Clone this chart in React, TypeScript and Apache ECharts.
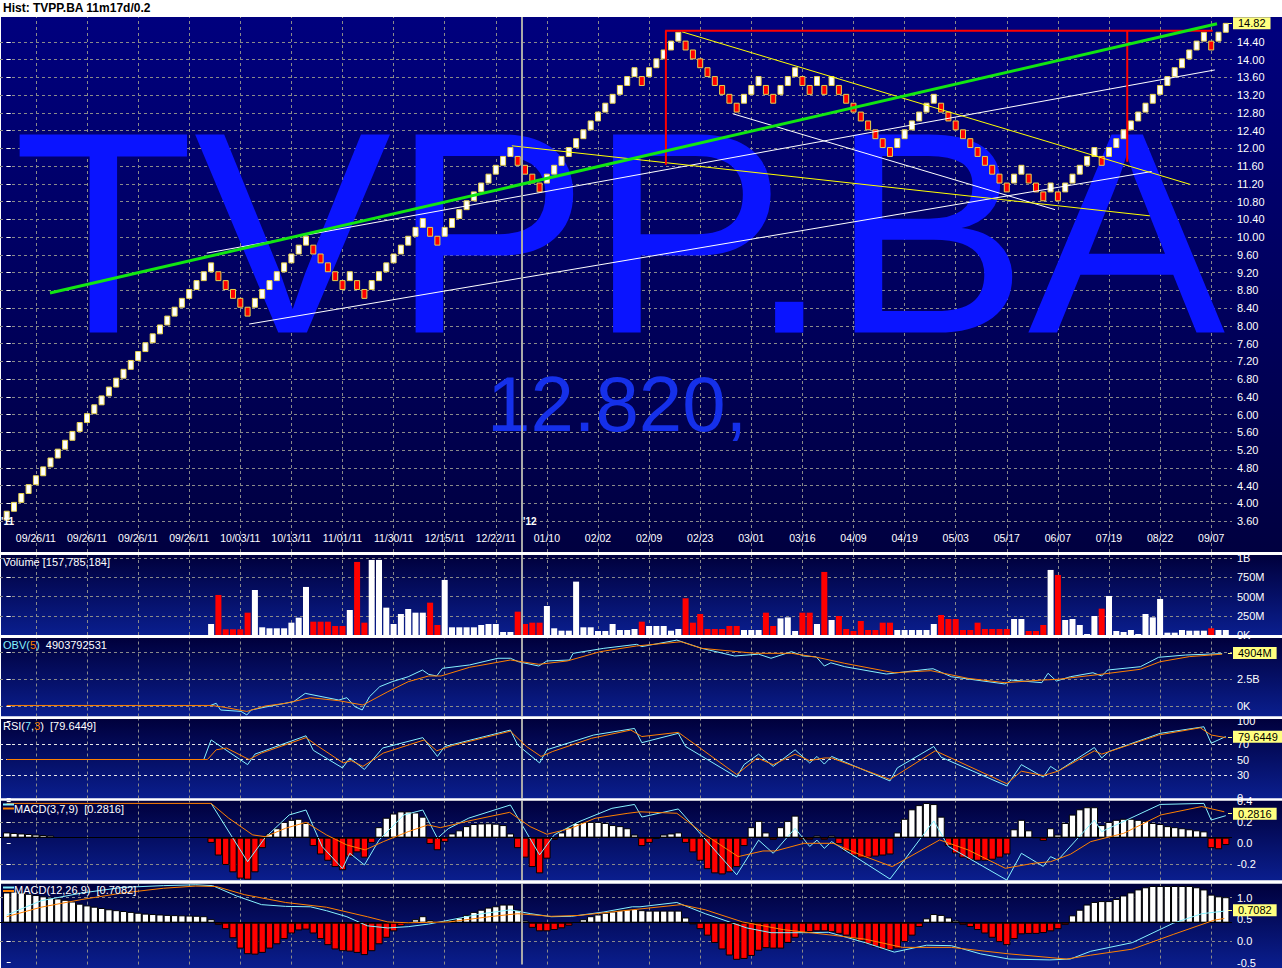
import React, { useEffect, useRef } from "react";
import * as echarts from "echarts";

const FONT = "'Liberation Sans', Arial, Helvetica, sans-serif";

// ---------------- texts ----------------
const TITLE = "Hist: TVPP.BA 11m17d/0.2";
const WATERMARK = "TVPP.BA";
const WATERMARK_PRICE = "12.820,";
const YEAR_MARKS = ["'11", "'12"];

// ---------------- renko bricks (0.2 box) ----------------
const BOX_SIZE = 0.2;
const FIRST_BRICK_LOW = 3.62;
// signed run lengths of consecutive up (+) / down (-) bricks, read left to right
const BRICK_RUNS = [29, -5, 8, -5, 1, -2, 8, -2, 10, -4, 13, -1, 5, -8, 3, -2, 3, -2, 1, -1, 1, -8, 6, -10, 2, -3, 1, -1, 5, -1, 14, -1, 2];
const LAST_PRICE = 14.82;

// ---------------- x axis ----------------
const DATE_COLS = [4, 11, 18, 25, 32, 39, 46, 53, 60, 67, 74, 81, 88, 95, 102, 109, 116, 123, 130, 137, 144, 151, 158, 165];
const DATE_LABELS = ["09/26/11", "09/26/11", "09/26/11", "09/26/11", "10/03/11", "10/13/11", "11/01/11", "11/30/11", "12/15/11", "12/22/11", "01/10", "02/02", "02/09", "02/23", "03/01", "03/16", "04/09", "04/19", "05/03", "05/17", "06/07", "07/19", "08/22", "09/07"];
const YEAR_BREAK = 70.5;
const PRICE_TICKS = [3.6, 4.0, 4.4, 4.8, 5.2, 5.6, 6.0, 6.4, 6.8, 7.2, 7.6, 8.0, 8.4, 8.8, 9.2, 9.6, 10.0, 10.4, 10.8, 11.2, 11.6, 12.0, 12.4, 12.8, 13.2, 13.6, 14.0, 14.4];

// ---------------- drawn trend lines [brick index, price] ----------------
const TREND_GREEN = [[5.93, 8.74], [165.8, 14.81]];
const TREND_RED_TOP = [[90.2, 14.655], [165.2, 14.655]];
const TREND_RED_LEFT = [[90.3, 14.655], [90.3, 11.63]];
const TREND_RED_RIGHT = [[153.5, 14.655], [153.5, 11.7]];
const TREND_YELLOW_A = [[92.5, 14.63], [162.1, 11.19]];
const TREND_YELLOW_B = [[69.2, 12.06], [156.6, 10.48]];
const TREND_WHITE_C = [[33.2, 8.04], [156.85, 11.48]];
const TREND_WHITE_D = [[27.4, 9.64], [165.5, 13.77]];
const TREND_WHITE_E = [[99.5, 12.78], [143.6, 10.62]];

// ---------------- volume (millions), bricks 28..167 ----------------
const VOLUME_TEXT = "Volume [157,785,184]";
const VOL_START = 28;
const VOLUMES = [143, 520, 74, 74, 74, 290, 585, 100, 87, 87, 87, 160, 225, 624, 173, 173, 173, 117, 117, 325, 949, 160, 975, 975, 355, 143, 273, 338, 290, 290, 420, 130, 715, 100, 100, 100, 100, 130, 143, 143, 39, 39, 303, 143, 160, 160, 377, 87, 56, 56, 693, 100, 100, 52, 52, 143, 65, 65, 78, 173,
  117, 117, 117, 56, 78, 477, 160, 273, 78, 78, 78, 117, 117, 65, 65, 65, 290, 117, 216, 229, 52, 290, 290, 143, 819, 195, 247, 78, 52, 182, 65, 65, 160, 160, 65, 65, 65, 65, 65, 143, 260, 208, 208, 65, 65, 160, 78, 78, 78, 78, 208, 208, 52, 52, 130, 845, 780, 195, 208, 130, 13, 247, 342, 507, 52, 39, 65, 13, 273, 229, 468, 30, 30, 65, 56, 56, 56, 87, 65, 65];
const VOL_TICKS = [0, 250, 500, 750, 1000];
const VOL_TICK_LABELS = ["0K", "250M", "500M", "750M", "1B"];

// ---------------- OBV (billions) ----------------
const OBV_VALUE_TEXT = "4903792531";
const OBV_LINE = [[27.9, 0.05], [28.7, 0.25], [29.3, -0.37], [32.1, -0.5], [32.9, -0.83], [33.5, -0.37], [35.4, -0.1], [39.3, 0.4], [40.9, 1.17], [43.2, 0.86], [45.5, 0.55], [46.6, 0.77], [47.7, -0.06], [48.7, -0.37], [49.7, 0.86], [51.1, 1.79], [52.8, 2.25], [55, 2.71], [56.95, 3.33], [57.8, 2.93], [58.9, 2.78], [59.7, 3.49], [63.4, 3.8], [67.3, 4.42], [69, 4.42], [70.1, 4.1], [72.9, 3.7], [74, 4.17], [77.1, 4.26], [77.6, 4.88], [81.8, 5.34], [86.3, 5.71], [87, 5.5], [91.8, 6.1], [95.2, 5.34], [99.7, 4.63], [103, 4.8], [104.7, 4.42], [107.5, 5.03], [109.2, 4.63], [110.9, 4.55], [112, 3.7], [112.9, 4.0], [114.8, 3.64], [120.5, 2.96], [126.1, 3.4], [126.9, 3.45], [129.4, 2.71], [136.75, 2.04], [137.6, 2.4], [141.8, 2.16], [142.65, 3.03], [143.8, 2.31], [145.7, 2.71], [148.8, 3.08], [150, 2.78], [150.8, 3.33], [155.3, 3.64], [157.8, 4.51], [161.5, 4.72], [166.5, 4.85]];
const OBV_SIGNAL = [[0, 0.05], [28, 0.05], [29.3, -0.06], [32.9, -0.5], [35.4, 0], [38.2, 0.25], [41.6, 0.77], [45.5, 0.49], [48.8, 0.09], [52.2, 1.32], [55, 2.25], [57.8, 2.78], [59.5, 2.78], [63.4, 3.58], [69, 4.26], [72.9, 3.86], [76.8, 4.17], [81.3, 5.03], [86.3, 5.56], [92.4, 5.95], [95.2, 5.34], [102.5, 4.88], [107.5, 4.88], [111, 4.51], [114.8, 3.95], [121.6, 3.08], [126.6, 3.27], [131.7, 2.56], [136.75, 2.16], [141.8, 2.4], [144, 2.47], [150.2, 2.96], [155.3, 3.4], [158, 4.1], [162, 4.57], [166.5, 4.8]];
const OBV_TICKS = [0, 2.5, 5];
const OBV_LABEL_TICKS = [0, 2.5];
const OBV_TICK_LABELS = ["0K", "2.5B", "5B"];
const OBV_LAST = 4.904;
const OBV_LAST_TEXT = "4904M";

// ---------------- RSI(7,3) ----------------
const RSI_LINE = [[27, 50], [28, 75.6], [33, 43.3], [34, 57], [41, 81], [42, 62], [46, 39], [47, 52], [49, 37], [51.5, 65], [57, 78.6], [59, 54], [60, 67], [69, 88.5], [70, 69], [73, 45.5], [74, 62.7], [80.4, 82], [86, 90.6], [87, 72], [92, 84.2], [93, 67], [100, 27], [101, 43.3], [103, 57], [105, 41], [108, 62.7], [110, 45.5], [111, 54], [112, 44], [113, 54], [121, 22], [122, 39], [127, 67], [128, 53], [137, 15.4], [139, 43.3], [142, 27], [143, 41], [144, 34.7], [149, 65.7], [150, 52], [151, 60.5], [158, 84.2], [164, 92.8], [165, 71.3], [167, 80]];
const RSI_SIGNAL = [[0, 50], [27.5, 50], [28.7, 62.7], [30.1, 65], [33.2, 50], [34.9, 58.4], [41, 78.6], [42.7, 67], [46.1, 45.5], [47.2, 48.5], [48.8, 41], [51.6, 58.4], [57.2, 75.6], [58.9, 61.4], [61.1, 68.3], [69, 87], [71.2, 67], [73.2, 54], [74.8, 60.5], [80.1, 77.7], [85.5, 88.5], [87, 80], [92, 85.5], [100, 30.4], [102.8, 52], [105, 43.3], [108, 57], [110, 48.5], [112, 52], [113, 52], [121, 24], [127.2, 61.4], [137, 18.4], [139, 34.7], [142, 29], [144, 34.7], [149, 61.4], [150, 57], [157.8, 82], [163.5, 91.5], [165, 82], [167, 78.6]];
const RSI_TICKS = [0, 30, 50, 70, 100];
const RSI_LEVELS = [30, 50, 70];
const RSI_LAST = 79.6449;

// ---------------- MACD(3,7,9) ----------------
const MACD1_LINE = [[28, 0.38], [33, -0.175], [35.4, 0.054], [38.7, 0.27], [41, 0.317], [43.2, -0.03], [46, -0.24], [47, -0.095], [49, -0.206], [51, 0.03], [54.4, 0.27], [57, 0.317], [59, 0.048], [60.5, 0.14], [63.3, 0.24], [69, 0.365], [73, -0.11], [75, 0.08], [78.4, 0.206], [82.9, 0.333], [86, 0.37], [87, 0.25], [92, 0.327], [100, -0.3], [103, 0.03], [105, -0.095], [108, 0.143], [110, -0.03], [111, 0.03], [112, -0.048], [113, 0.016], [121, -0.34], [127, 0.213], [129, -0.03], [137, -0.35], [139, -0.095], [142, -0.22], [143, -0.127], [144, -0.16], [149, 0.222], [150, 0.111], [158, 0.37], [164, 0.38], [165, 0.222], [167, 0.263]];
const MACD1_SIGNAL = [[0, 0.38], [28, 0.38], [30.4, 0.24], [33.7, 0.08], [35.4, 0.063], [38.2, 0.143], [41, 0.2], [43.8, 0.08], [46.6, -0.016], [49.1, -0.063], [51.6, 0.016], [55, 0.111], [57.7, 0.175], [59.4, 0.149], [63.3, 0.213], [68.9, 0.295], [71.7, 0.159], [74, 0.086], [77.3, 0.143], [80.6, 0.238], [85.1, 0.286], [86.75, 0.3], [91.8, 0.286], [95.7, 0.08], [100.2, -0.127], [103.6, -0.073], [105.3, -0.073], [109.2, 0], [113.2, 0], [117, -0.111], [121.3, -0.222], [127.8, 0.032], [131.7, -0.063], [136.8, -0.238], [140.7, -0.19], [143, -0.175], [145.7, -0.105], [148.5, 0.016], [153, 0.095], [158.1, 0.27], [163.7, 0.35], [166.8, 0.3]];
const MACD1_HIST = [0.05, 0.045, 0.04, 0.035, 0.03, 0.025, 0.02,
  null, null, null, null, null, null, null, null, null, null, null, null, null, null, null, null, null, null, null, null, null,
  -0.05, -0.17, -0.26, -0.33, -0.39, -0.4, -0.33, -0.1, 0.04, 0.09, 0.15, 0.17, 0.18, 0.14, -0.08, -0.16, -0.22, -0.28, -0.31, -0.18, -0.14, -0.19, -0.05,
  0.1, 0.19, 0.23, 0.25, 0.25, 0.24, 0.2, -0.06, -0.12, -0.04, 0.04, 0.07, 0.11, 0.13, 0.135, 0.137, 0.133, 0.12, 0.04, -0.1, -0.19, -0.28, -0.34, -0.2, -0.02,
  0.05, 0.1, 0.14, 0.15, 0.15, 0.15, 0.14, 0.12, 0.11, 0.09, 0.03, -0.08, -0.05, -0.01, 0.03, 0.04, 0.05, -0.05, -0.14, -0.22, -0.3, -0.34, -0.35, -0.33, -0.28, -0.08,
  0.1, 0.16, 0.05, -0.02, 0.1, 0.16, 0.21, -0.02, -0.02, 0.02, -0.02, 0.02, -0.06, -0.13, -0.17, -0.19, -0.19, -0.18, -0.17, -0.16,
  0.05, 0.18, 0.27, 0.31, 0.33, 0.32, 0.2, -0.08, -0.15, -0.19, -0.21, -0.22, -0.22, -0.21, -0.19, -0.16, 0.08, 0.17, 0.07, 0.0, -0.03, 0.09, 0.03,
  0.14, 0.22, 0.27, 0.29, 0.29, 0.12, 0.15, 0.17, 0.18, 0.18, 0.17, 0.16, 0.14, 0.13, 0.11, 0.1, 0.09, 0.08, 0.07, 0.06, -0.1, -0.11, -0.07];
const MACD1_TICKS = [-0.2, 0, 0.2, 0.4];
const MACD1_LEVELS = [-0.2, 0.2];
const MACD1_LAST = 0.2816;

// ---------------- MACD(12,26,9) ----------------
const MACD2_LINE = [[0, 0.6], [4.7, 0.93], [10.3, 1.11], [15.9, 1.24], [21.5, 1.28], [25.9, 1.3], [28.2, 1.28], [31.5, 1.04], [34.9, 0.84], [38.2, 0.8], [41.6, 0.79], [43.8, 0.7], [46.6, 0.56], [49.4, 0.35], [52.2, 0.3], [55, 0.33], [57.8, 0.39], [60.6, 0.48], [65.1, 0.63], [69, 0.72], [71.8, 0.63], [74.6, 0.56], [77.4, 0.57], [81.8, 0.67], [85.7, 0.79], [86.75, 0.79], [91.8, 0.89], [95.7, 0.63], [101.4, 0.3], [104.7, 0.19], [109.2, 0.19], [112.6, 0.2], [117.6, -0.04], [121.6, -0.26], [126, -0.1], [129.4, -0.11], [133.4, -0.3], [137.3, -0.42], [142.9, -0.44], [145.7, -0.42], [148.5, -0.24], [154.2, -0.04], [159.8, 0.41], [163.7, 0.63], [166.8, 0.69]];
const MACD2_SIGNAL = [[0, 0.56], [4.7, 0.78], [10.3, 0.96], [15.9, 1.11], [21.5, 1.22], [25.9, 1.27], [28.7, 1.26], [32.6, 1.07], [38.2, 0.89], [43.8, 0.78], [49.4, 0.56], [52.2, 0.44], [55, 0.42], [60.6, 0.44], [66.1, 0.56], [70, 0.63], [74.6, 0.57], [78.4, 0.59], [82.9, 0.67], [86.75, 0.74], [92.4, 0.84], [95.7, 0.72], [100.8, 0.44], [106.4, 0.26], [113.2, 0.13], [117.6, 0.04], [122.7, -0.15], [129.4, -0.15], [137.3, -0.3], [145.2, -0.42], [148.5, -0.33], [154.2, -0.19], [159.8, 0.15], [165.4, 0.48], [166.8, 0.52]];
const MACD2_HIST = [0.7, 0.72, 0.7, 0.67, 0.64, 0.61, 0.58, 0.56, 0.53, 0.49, 0.44, 0.4, 0.37, 0.34, 0.31, 0.29, 0.27, 0.25, 0.23, 0.21, 0.2, 0.19, 0.18, 0.175, 0.17, 0.165, 0.16, 0.15, 0.08,
  -0.05, -0.15, -0.36, -0.6, -0.73, -0.74, -0.7, -0.6, -0.5, -0.38, -0.25, -0.18, -0.16, -0.25, -0.38, -0.52, -0.62, -0.66, -0.67, -0.7, -0.75, -0.66, -0.5, -0.35, -0.2, -0.08, -0.02,
  0.08, 0.15, 0.06, 0.01, 0.01, 0.06, 0.12, 0.18, 0.25, 0.3, 0.35, 0.38, 0.42, 0.42, 0.3, 0.05, -0.12, -0.2, -0.2, -0.17, -0.13, -0.07,
  0.01, 0.08, 0.15, 0.19, 0.23, 0.26, 0.29, 0.31, 0.32, 0.29, 0.28, 0.28, 0.28, 0.28, 0.28, 0.12,
  -0.04, -0.15, -0.3, -0.47, -0.62, -0.76, -0.86, -0.84, -0.77, -0.65, -0.59, -0.6, -0.6, -0.47, -0.35, -0.25, -0.22, -0.2, -0.2, -0.22, -0.26, -0.3, -0.37, -0.43, -0.5, -0.56, -0.62, -0.64, -0.6, -0.45, -0.3, -0.1,
  0.1, 0.2, 0.18, 0.12, 0.05, -0.05, -0.1, -0.17, -0.25, -0.35, -0.45, -0.52, -0.38, -0.27, -0.26, -0.26, -0.24, -0.2, -0.15, -0.05,
  0.17, 0.3, 0.42, 0.48, 0.5, 0.5, 0.55, 0.63, 0.7, 0.77, 0.82, 0.85, 0.85, 0.85, 0.85, 0.85, 0.85, 0.82, 0.77, 0.65, 0.61, 0.59];
const MACD2_TICKS = [-0.5, 0, 0.5, 1.0];
const MACD2_LEVELS = [0, 1.0];
const MACD2_LAST = 0.7082;

// ---------------- layout ----------------
const PLOT_W = 1232;
const X_MIN = -0.918;
const X_MAX = 167.85;
const PANELS = [
  { top: 17, bottom: 552 },
  { top: 555, bottom: 635 },
  { top: 638, bottom: 716.5 },
  { top: 719, bottom: 798.5 },
  { top: 800.5, bottom: 880.5 },
  { top: 883.5, bottom: 968 },
];

function ext(top, bottom, y1, v1, y2, v2) {
  const s = (v2 - v1) / (y2 - y1);
  return { max: v1 + (top - y1) * s, min: v1 + (bottom - y1) * s };
}

const GRID_LINE = { color: "#8a8a8a", type: [3, 3], width: 1 };
const CYAN = "#86f2ff";
const ORANGE = "#ff8000";

function buildOption() {
  const bricks = [];
  let level = -1;
  let idx = 0;
  for (const r of BRICK_RUNS) {
    const d = r > 0 ? 1 : -1;
    for (let n = 0; n < Math.abs(r); n++) {
      level += d;
      bricks.push([idx, FIRST_BRICK_LOW + BOX_SIZE * level, FIRST_BRICK_LOW + BOX_SIZE * (level + 1), d > 0 ? 1 : 0]);
      idx++;
    }
  }

  const P = PANELS;
  const eMain = ext(P[0].top, P[0].bottom, 521, 3.6, 42, 14.4);
  const eVol = ext(P[1].top, P[1].bottom, 635, 0, 558, 1000);
  const eObv = ext(P[2].top, P[2].bottom, 706, 0, 679, 2.5);
  const eRsi = ext(P[3].top, P[3].bottom, 797.75, 0, 721.25, 100);
  const eM1 = ext(P[4].top, P[4].bottom, 843.3, 0, 822.3, 0.2);
  const eH1 = ext(P[4].top, P[4].bottom, 837.67, 0, 816.67, 0.2);
  const eM2 = ext(P[5].top, P[5].bottom, 943.33, 0, 920.83, 0.5);
  const eH2 = ext(P[5].top, P[5].bottom, 924.33, 0, 901.83, 0.5);
  const panelExt = [eMain, eVol, eObv, eRsi, eM1, eM2];
  const panelY = [0, 1, 2, 3, 5, 8];

  const grid = P.map((p) => ({ left: 0, width: PLOT_W, top: p.top, height: p.bottom - p.top, show: false }));

  const xAxis = P.map((p, k) => ({
    type: "value",
    gridIndex: k,
    min: X_MIN,
    max: X_MAX,
    axisLine: { show: false },
    axisTick: { show: false, customValues: DATE_COLS },
    splitLine: { show: false },
    axisLabel:
      k === 0
        ? {
            show: true,
            inside: true,
            margin: 9,
            customValues: DATE_COLS,
            formatter: (v) => DATE_LABELS[DATE_COLS.indexOf(v)] || "",
            color: "#ffffff",
            fontSize: 10.5,
            fontFamily: FONT,
          }
        : { show: false },
  }));

  const labelAxis = (gridIndex, e, ticks, fmt, split, labelTicks = ticks) => ({
    type: "value",
    gridIndex,
    position: "right",
    min: e.min,
    max: e.max,
    axisLine: { show: false },
    axisTick: { show: true, length: 4, lineStyle: { color: "#ffffff" }, customValues: ticks },
    axisLabel: { show: true, customValues: labelTicks, formatter: fmt, color: "#ffffff", fontSize: 11, fontFamily: FONT, margin: 5 },
    splitLine: { show: split, lineStyle: GRID_LINE },
  });
  const lineAxis = (gridIndex, e, values, style) => ({
    type: "value",
    gridIndex,
    position: "left",
    min: e.min,
    max: e.max,
    axisLine: { show: false },
    axisTick: { show: false, customValues: values },
    axisLabel: { show: false },
    splitLine: { show: true, lineStyle: style },
  });
  const hiddenAxis = (gridIndex, e) => ({
    type: "value",
    gridIndex,
    position: "left",
    min: e.min,
    max: e.max,
    axisLine: { show: false },
    axisTick: { show: false },
    axisLabel: { show: false },
    splitLine: { show: false },
  });

  const yAxis = [
    labelAxis(0, eMain, PRICE_TICKS, (v) => v.toFixed(2), true), // 0
    labelAxis(1, eVol, VOL_TICKS, (v) => VOL_TICK_LABELS[VOL_TICKS.indexOf(v)] || "", true), // 1
    labelAxis(2, eObv, OBV_TICKS, (v) => OBV_TICK_LABELS[OBV_TICKS.indexOf(v)] || "", true, OBV_LABEL_TICKS), // 2
    labelAxis(3, eRsi, RSI_TICKS, (v) => String(v), false), // 3
    lineAxis(3, eRsi, RSI_LEVELS, { color: "#e8e8e8", type: [3, 3], width: 1 }), // 4
    labelAxis(4, eM1, MACD1_TICKS, (v) => v.toFixed(1), false), // 5
    lineAxis(4, eM1, MACD1_LEVELS, GRID_LINE), // 6
    hiddenAxis(4, eH1), // 7
    labelAxis(5, eM2, MACD2_TICKS, (v) => v.toFixed(1), false), // 8
    lineAxis(5, eM2, MACD2_LEVELS, GRID_LINE), // 9
    hiddenAxis(5, eH2), // 10
  ];

  const yearLine = { xAxis: YEAR_BREAK, lineStyle: { color: "#a9a9a9", width: 2, type: "solid" }, label: { show: false } };
  const zeroLine = { yAxis: 0, lineStyle: { color: "#000000", width: 1, type: "solid" }, label: { show: false } };
  const valueBox = (v, text) => [
    {
      coord: [X_MAX - 0.55, v],
      lineStyle: { color: "#ffff80", width: 1, type: "solid" },
      label: {
        show: true,
        position: "end",
        distance: 1,
        formatter: text,
        color: "#000000",
        backgroundColor: "#ffff80",
        padding: [1, 5, 0, 5],
        fontSize: 11,
        fontFamily: FONT,
      },
    },
    { coord: [X_MAX, v] },
  ];
  const mark = (data) => ({ silent: true, symbol: ["none", "none"], animation: false, data });

  const line = (data, xi, yi, color, width, z, extra = {}) => ({
    type: "line",
    xAxisIndex: xi,
    yAxisIndex: yi,
    data,
    symbol: "none",
    silent: true,
    lineStyle: { color, width },
    z,
    ...extra,
  });

  const histData = (arr) =>
    arr
      .map((h, i) => (h === null ? null : { value: [i, h], itemStyle: { color: h >= 0 ? "#ffffff" : "#ff0000" } }))
      .filter((d) => d !== null);

  const volData = VOLUMES.map((v, k) => {
    const i = VOL_START + k;
    return { value: [i, v], itemStyle: { color: bricks[i][3] ? "#ffffff" : "#ff0000" } };
  });

  // vertical date grid lines, one carrier series per panel (drawn beneath everything)
  const gridCarriers = P.map((p, k) => ({
    type: "line",
    xAxisIndex: k,
    yAxisIndex: panelY[k],
    data: [[X_MIN, panelExt[k].min]],
    symbol: "none",
    silent: true,
    z: 0,
    lineStyle: { opacity: 0 },
    markLine: {
      z: 0,
      silent: true,
      symbol: ["none", "none"],
      animation: false,
      label: { show: false },
      lineStyle: GRID_LINE,
      data: DATE_COLS.map((c) => ({ xAxis: c })),
    },
  }));

  const series = [
    ...gridCarriers,
    {
      type: "custom",
      xAxisIndex: 0,
      yAxisIndex: 0,
      data: bricks,
      encode: { x: 0, y: [1, 2] },
      clip: false,
      silent: true,
      z: 3,
      renderItem: (params, api) => {
        const i = api.value(0);
        const lo = api.value(1);
        const hi = api.value(2);
        const up = api.value(3);
        const a = api.coord([i, hi]);
        const b = api.coord([i, lo]);
        return {
          type: "rect",
          shape: { x: a[0] - 2.5, y: a[1], width: 5, height: b[1] - a[1] },
          style: { fill: up ? "#ffffff" : "#ff0000", stroke: "#e8d44c", lineWidth: 1 },
        };
      },
    },
    line(TREND_WHITE_C, 0, 0, "#ffffff", 1, 4),
    line(TREND_WHITE_D, 0, 0, "#ffffff", 1, 4),
    line(TREND_WHITE_E, 0, 0, "#ffffff", 1, 4),
    line(TREND_YELLOW_A, 0, 0, "#ffff00", 1, 4),
    line(TREND_YELLOW_B, 0, 0, "#ffff00", 1, 4),
    line(TREND_RED_TOP, 0, 0, "#ff0000", 2, 4),
    line(TREND_RED_LEFT, 0, 0, "#ff0000", 2, 4),
    line(TREND_RED_RIGHT, 0, 0, "#ff0000", 2, 4),
    line(TREND_GREEN, 0, 0, "#12e612", 3, 5, { markLine: mark([yearLine, valueBox(LAST_PRICE, LAST_PRICE.toFixed(2))]) }),
    {
      type: "bar",
      xAxisIndex: 1,
      yAxisIndex: 1,
      data: volData,
      barWidth: 6,
      silent: true,
      z: 2,
      markLine: mark([yearLine]),
    },
    line(OBV_LINE, 2, 2, CYAN, 1, 4, { markLine: mark([yearLine, valueBox(OBV_LAST, OBV_LAST_TEXT)]) }),
    line(OBV_SIGNAL, 2, 2, ORANGE, 1, 5),
    line(RSI_LINE, 3, 3, CYAN, 1, 4, { markLine: mark([yearLine, valueBox(RSI_LAST, RSI_LAST.toFixed(4))]) }),
    line(RSI_SIGNAL, 3, 3, ORANGE, 1, 5),
    {
      type: "bar",
      xAxisIndex: 4,
      yAxisIndex: 7,
      data: histData(MACD1_HIST),
      barWidth: 7.3,
      silent: true,
      z: 2,
      itemStyle: { borderColor: "#000000", borderWidth: 1 },
      markLine: mark([zeroLine, yearLine]),
    },
    line(MACD1_LINE, 4, 5, CYAN, 1, 4, { markLine: mark([valueBox(MACD1_LAST, MACD1_LAST.toFixed(4))]) }),
    line(MACD1_SIGNAL, 4, 5, ORANGE, 1, 5),
    {
      type: "bar",
      xAxisIndex: 5,
      yAxisIndex: 10,
      data: histData(MACD2_HIST),
      barWidth: 7.3,
      silent: true,
      z: 2,
      itemStyle: { borderColor: "#000000", borderWidth: 1 },
      markLine: mark([zeroLine, yearLine]),
    },
    line(MACD2_LINE, 5, 8, CYAN, 1, 4, { markLine: mark([valueBox(MACD2_LAST, MACD2_LAST.toFixed(4))]) }),
    line(MACD2_SIGNAL, 5, 8, ORANGE, 1, 5),
  ];

  // -------- graphic decorations --------
  const mainBg = new echarts.graphic.LinearGradient(0, 0, 0, 1, [
    { offset: 0, color: "#00007e" },
    { offset: 1, color: "#000040" },
  ]);
  const subBg = () =>
    new echarts.graphic.LinearGradient(0, 0, 0, 1, [
      { offset: 0, color: "#00003c" },
      { offset: 1, color: "#0a1e8e" },
    ]);
  const elements = [];
  P.forEach((p, k) => {
    elements.push({
      type: "rect",
      silent: true,
      z: -10,
      shape: { x: 1, y: p.top, width: 1281, height: p.bottom - p.top },
      style: { fill: k === 0 ? mainBg : subBg() },
    });
  });
  for (let k = 0; k < P.length - 1; k++) {
    elements.push({
      type: "rect",
      silent: true,
      z: 100,
      shape: { x: 0, y: P[k].bottom, width: 1282, height: P[k + 1].top - P[k].bottom },
      style: { fill: "#ffffff" },
    });
  }
  elements.push({ type: "rect", silent: true, z: 100, shape: { x: 0, y: 0, width: 1282, height: P[0].top }, style: { fill: "#ffffff" } });
  elements.push({
    type: "text",
    silent: true,
    z: 101,
    x: 3,
    y: 8,
    style: { text: TITLE, fill: "#000000", font: `bold 12px ${FONT}`, align: "left", verticalAlign: "middle" },
  });
  elements.push({
    type: "text",
    silent: true,
    z: 1,
    x: 13,
    y: 233,
    scaleX: 1.028,
    style: { text: WATERMARK, fill: "#0a14ff", font: `288px ${FONT}`, lineHeight: 214, align: "left", verticalAlign: "middle" },
  });
  elements.push({
    type: "text",
    silent: true,
    z: 1,
    x: 487,
    y: 404,
    style: { text: WATERMARK_PRICE, fill: "#1530ea", font: `78px ${FONT}`, lineHeight: 60, align: "left", verticalAlign: "middle" },
  });
  elements.push({ type: "text", silent: true, z: 20, x: 1, y: 521, style: { text: YEAR_MARKS[0], fill: "#ffffff", font: `bold 10px ${FONT}`, align: "left", verticalAlign: "middle" } });
  elements.push({ type: "text", silent: true, z: 20, x: 523, y: 521, style: { text: YEAR_MARKS[1], fill: "#ffffff", font: `bold 10px ${FONT}`, align: "left", verticalAlign: "middle" } });

  const rich = {
    w: { fill: "#ffffff", fontSize: 11, fontFamily: FONT },
    c: { fill: CYAN, fontSize: 11, fontFamily: FONT },
    o: { fill: ORANGE, fontSize: 11, fontFamily: FONT },
  };
  const panelText = (x, y, text) => ({
    type: "text",
    silent: true,
    z: 20,
    x,
    y,
    style: { text, rich, fill: "#ffffff", font: `11px ${FONT}`, align: "left", verticalAlign: "middle" },
  });
  elements.push(panelText(3, 562, `{w|${VOLUME_TEXT}}`));
  elements.push(panelText(3, 644.5, `{c|OBV(}{o|5}{c|)}{w|  ${OBV_VALUE_TEXT}}`));
  elements.push(panelText(3, 726, `{w|RSI(}{c|7}{w|,}{o|3}{w|)  [${RSI_LAST.toFixed(4)}]}`));
  elements.push(panelText(14, 808.5, `{w|MACD(3,7,9)  [${MACD1_LAST.toFixed(4)}]}`));
  elements.push(panelText(14, 890, `{w|MACD(12,26,9)  [${MACD2_LAST.toFixed(4)}]}`));
  const legendLine = (y, color) => ({
    type: "line",
    silent: true,
    z: 20,
    shape: { x1: 3, y1: y, x2: 14, y2: y },
    style: { stroke: color, lineWidth: 2 },
  });
  elements.push(legendLine(804.5, CYAN), legendLine(808.5, ORANGE), legendLine(887.5, CYAN), legendLine(891, ORANGE));

  return {
    animation: false,
    backgroundColor: "#ffffff",
    grid,
    xAxis,
    yAxis,
    series,
    graphic: { elements },
  };
}

export default function App() {
  const ref = useRef(null);
  useEffect(() => {
    if (!ref.current) return;
    const chart = echarts.init(ref.current, undefined, { renderer: "svg" });
    chart.setOption(buildOption());
    return () => chart.dispose();
  }, []);
  return <div ref={ref} style={{ position: "absolute", left: 0, top: 0, width: 1282, height: 968, background: "#ffffff" }} />;
}
